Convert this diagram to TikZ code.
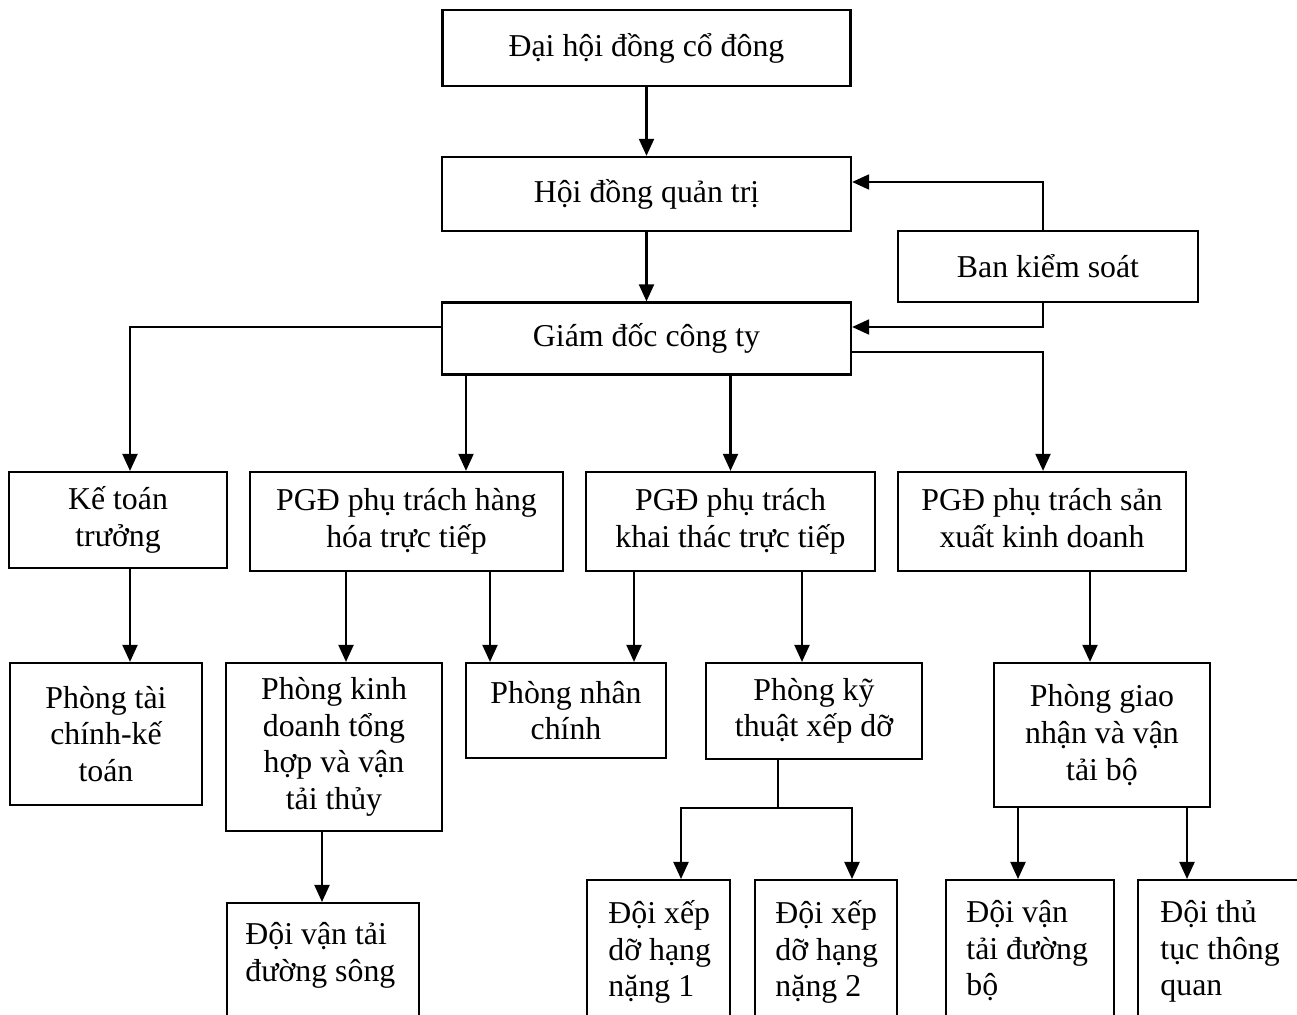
\documentclass[tikz,border=0pt]{standalone}
\usepackage{fontspec}
\setmainfont{Liberation Serif}
\usetikzlibrary{arrows.meta}
\tikzset{
  box/.style={draw,line width=0.95pt,align=center,inner sep=2pt},
  leaf/.style={draw,line width=0.95pt,anchor=north west,inner sep=0pt},
  leaftext/.style={align=left,anchor=north west,inner sep=0pt},
  conn/.style={line width=0.95pt},
  flow/.style={-{Triangle[length=7.5pt,width=6.6pt]},line width=0.95pt}}

\begin{document}
\begin{tikzpicture}[x=0.44pt,y=-0.44pt,font=\fontsize{14}{16.1}\selectfont]
  \clip (0,0) rectangle (1297,1015);
  % top of the chart
  \node[box,minimum width=179.5pt,minimum height=33.4pt] (dhdcd) at (646.5,48) {Đại hội đồng cổ đông};
  \node[box,minimum width=180pt,minimum height=32.6pt] (hdqt) at (646.5,194) {Hội đồng quản trị};
  \node[box,minimum width=132pt,minimum height=31.2pt] (bks) at (1048,266.5) {Ban kiểm soát};
  \node[box,minimum width=180pt,minimum height=31.7pt] (gd) at (646.5,338.5) {Giám đốc công ty};
  % second row
  \node[box,minimum width=95.9pt,minimum height=42.2pt] (ktt) at (118,520) {Kế toán\\trưởng};
  \node[box,minimum width=137.7pt,minimum height=43.6pt] (pgd1) at (406.5,521.5) {PGĐ phụ trách hàng\\hóa trực tiếp};
  \node[box,minimum width=127.2pt,minimum height=43.6pt] (pgd2) at (730.5,521.5) {PGĐ phụ trách\\khai thác trực tiếp};
  \node[box,minimum width=126.7pt,minimum height=43.6pt] (pgd3) at (1042,521.5) {PGĐ phụ trách sản\\xuất kinh doanh\vphantom{p}};
  % departments
  \node[box,minimum width=84.5pt,minimum height=62.5pt] (ptc) at (106,734) {Phòng tài\\chính-kế\\toán};
  \node[box,minimum width=95pt,minimum height=73.9pt] (pkd) at (334,747) {Phòng kinh\\doanh tổng\\hợp và vận\\tải thủy};
  \node[box,minimum width=88pt,minimum height=41.8pt] (pnc) at (566,710.5) {Phòng nhân\\chính};
  \node[box,minimum width=95pt,minimum height=42.2pt] (pkt) at (814,711) {Phòng kỹ\\thuật xếp dỡ};
  \node[box,minimum width=95pt,minimum height=63.4pt] (pgn) at (1102,735) {Phòng giao\\nhận và vận\\tải bộ};
  % teams (cut at the bottom)
  \node[leaf,minimum width=84.5pt,minimum height=60pt] (dvs) at (226,902) {};
  \node[leaf,minimum width=62.9pt,minimum height=71pt] (d1) at (586,879) {};
  \node[leaf,minimum width=62.5pt,minimum height=71pt] (d2) at (754,879) {};
  \node[leaf,minimum width=73.9pt,minimum height=71pt] (d3) at (945,879) {};
  \node[leaf,minimum width=88pt,minimum height=71pt] (d4) at (1137,879) {};
  \path (dvs.north west) ++(19,20) node[leaftext] (dvst) {Đội vận tải\\đường sông};
  \path (d1.north west) ++(22,21) node[leaftext] (d1t) {Đội xếp\\dỡ hạng\\nặng 1};
  \path (d2.north west) ++(21,21) node[leaftext] (d2t) {Đội xếp\\dỡ hạng\\nặng 2};
  \path (d3.north west) ++(21,21) node[leaftext] (d3t) {Đội vận\\tải đường\\bộ};
  \path (d4.north west) ++(23,21) node[leaftext] (d4t) {Đội thủ\\tục thông\\quan};
  % connectors
  \draw[flow] (dhdcd.south) -- (hdqt.north);
  \draw[flow] (hdqt.south) -- (gd.north);
  \draw[flow] (bks.north -| 1043,0) |- (hdqt.east |- 0,182);
  \draw[flow] (bks.south -| 1043,0) |- (gd.east |- 0,327);
  \draw[flow] (gd.west |- 0,327) -| (ktt.north -| 130,0);
  \draw[flow] (gd.south -| 466,0) -- (pgd1.north -| 466,0);
  \draw[flow] (gd.south -| pgd2.north) -- (pgd2.north);
  \draw[flow] (gd.east |- 0,352) -| (pgd3.north -| 1043,0);
  \draw[flow] (ktt.south -| 130,0) -- (ptc.north -| 130,0);
  \draw[flow] (pgd1.south -| 346,0) -- (pkd.north -| 346,0);
  \draw[flow] (pgd1.south -| 490,0) -- (pnc.north -| 490,0);
  \draw[flow] (pgd2.south -| 634,0) -- (pnc.north -| 634,0);
  \draw[flow] (pgd2.south -| 802,0) -- (pkt.north -| 802,0);
  \draw[flow] (pgd3.south -| 1090,0) -- (pgn.north -| 1090,0);
  \draw[flow] (pkd.south -| 322,0) -- (dvs.north -| 322,0);
  \coordinate (split) at (778,808);
  \draw[conn] (pkt.south -| split) -- (split);
  \draw[flow] (split) -| (d1.north -| 681,0);
  \draw[flow] (split) -| (d2.north -| 852,0);
  \draw[flow] (pgn.south -| 1018,0) -- (d3.north -| 1018,0);
  \draw[flow] (pgn.south -| 1187,0) -- (d4.north -| 1187,0);
\end{tikzpicture}
\end{document}
